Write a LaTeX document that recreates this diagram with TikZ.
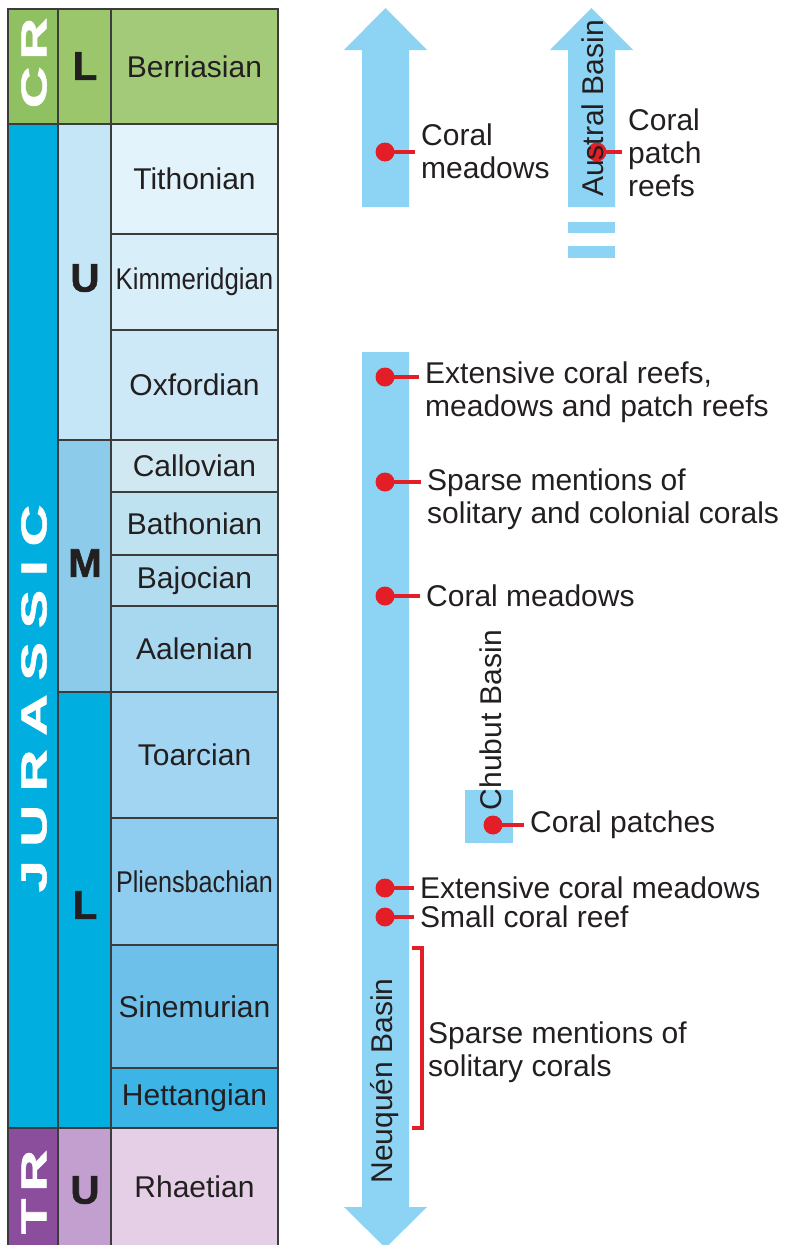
\documentclass[tikz,border=0pt]{standalone}
\usepackage{fontspec}
\setmainfont{Liberation Sans}
\newfontfamily\heavyfont[BoldFeatures={FakeBold=1.5}]{Liberation Sans}
\usetikzlibrary{positioning}

\definecolor{ink}{HTML}{231F20}
\definecolor{gridline}{HTML}{3C3C3C}
\definecolor{crA}{HTML}{8FC062}
\definecolor{crB}{HTML}{9CC66C}
\definecolor{crC}{HTML}{A3CA78}
\definecolor{jur}{HTML}{00AEDF}
\definecolor{upJ}{HTML}{C5E6F6}
\definecolor{midJ}{HTML}{8CCCEA}
\definecolor{tith}{HTML}{E3F3FB}
\definecolor{kimm}{HTML}{D8EEF9}
\definecolor{oxf}{HTML}{CDE8F7}
\definecolor{call}{HTML}{CFE8F1}
\definecolor{bath}{HTML}{BFE2F0}
\definecolor{bajo}{HTML}{B4DDF0}
\definecolor{aale}{HTML}{A8D8EF}
\definecolor{toar}{HTML}{A2D5F1}
\definecolor{plie}{HTML}{8ECDF0}
\definecolor{sine}{HTML}{6CC0EA}
\definecolor{hett}{HTML}{3CB4E6}
\definecolor{trA}{HTML}{8B4E9C}
\definecolor{trB}{HTML}{C29FCF}
\definecolor{rhae}{HTML}{E4CFE6}
\definecolor{basinblue}{HTML}{8DD3F3}
\definecolor{coralred}{HTML}{E31E26}

\begin{document}
\begin{tikzpicture}[
x=1pt, y=-1pt,
cell/.style={draw=gridline, line width=1.2pt},
stage/.style={font=\fontsize{30}{33}\selectfont, text=ink},
epoch/.style={font=\heavyfont\fontsize{40}{40}\selectfont\bfseries, text=ink},
period/.style={font=\heavyfont\fontsize{36}{36}\selectfont\bfseries, text=white, rotate=90, inner sep=0pt},
basin/.style={font=\fontsize{30}{30}\selectfont, text=ink, rotate=90, inner sep=0pt},
dot/.style={circle, fill=coralred, inner sep=0pt, minimum size=19pt},
stem/.style={draw=coralred, line width=4pt},
note/.style={anchor=west, align=left, inner xsep=6pt, inner ysep=0pt, font=\fontsize{30}{33}\selectfont, text=ink}
]
\useasboundingbox (0,0) rectangle (788,1245);

% time scale
\foreach \ya/\yb/\col in {9/124/crA, 124/1128/jur, 1128/1260/trA}
  \filldraw[cell, fill=\col] (8,\ya) rectangle (58,\yb);
\foreach \ya/\yb/\col in {9/124/crB, 124/440/upJ, 440/692/midJ, 692/1128/jur, 1128/1260/trB}
  \filldraw[cell, fill=\col] (58,\ya) rectangle (111,\yb);
\foreach \name/\ya/\yb/\col [count=\i] in {
  Berriasian/9/124/crC, Tithonian/124/234/tith,
  {\scalebox{0.86}[1]{Kimmeridgian}}/234/330/kimm, Oxfordian/330/440/oxf,
  Callovian/440/492/call, Bathonian/492/555/bath, Bajocian/555/606/bajo,
  Aalenian/606/692/aale, Toarcian/692/818/toar,
  {\scalebox{0.84}[1]{Pliensbachian}}/818/945/plie, Sinemurian/945/1068/sine,
  Hettangian/1068/1128/hett, Rhaetian/1128/1260/rhae}{
  \filldraw[cell, fill=\col] (111,\ya) rectangle (278,\yb);
  \node[stage] (st\i) at (194.5,{(min(\yb,1245)+\ya)/2}) {\name};
}

\node[period] (cr) at (34,63) {\scalebox{1.6}[1]{C\kern4.4pt R}};
\node[period] (jurassic) at (34,698.5) {\scalebox{1.6}[1]{J\kern8.6pt U\kern8.6pt R\kern8.6pt A\kern8.6pt S\kern8.6pt S\kern8.6pt I\kern8.6pt C}};
\node[period] (tr) at (34,1192) {\scalebox{1.6}[1]{T\kern4.5pt R}};

\node[epoch] (lowCr) at (85,66) {L};
\node[epoch] (upJur) at (85,278) {U};
\node[epoch] (midJur) at (85,563) {M};
\node[epoch] (lowJur) at (85,905) {L};
\node[epoch] (upTr) at (85,1190) {U};

% basins
\fill[basinblue] (362,207) -- (362,50) -- (344,50) -- (385.5,8) -- (427,50) -- (409,50) -- (409,207) -- cycle;
\fill[basinblue] (568,207) -- (568,50) -- (550,50) -- (591.5,8) -- (633,50) -- (615,50) -- (615,207) -- cycle;
\fill[basinblue] (568,222) rectangle (615,233);
\fill[basinblue] (568,246) rectangle (615,258);
\fill[basinblue] (362,352) -- (362,1207) -- (344,1207) -- (385.5,1248) -- (427,1207) -- (409,1207) -- (409,352) -- cycle;
\fill[basinblue] (465,790) rectangle (513,843);

% occurrences
\node[dot] (d0) at (385,152) {};
\node[note] (n0) at (415,151.5) {Coral\\meadows};
\draw[stem] (d0.center) -- (d0 -| n0.west);

\node[dot] (d1) at (597,152) {};
\node[note] (n1) at (622,153) {Coral\\patch\\reefs};
\draw[stem] (d1.center) -- (d1 -| n1.west);
\node[basin] (austral) at (593,108.5) {Austral Basin};

\node[dot] (d2) at (385,377) {};
\node[note] (n2) at (419,392.5) {Extensive coral reefs,\\meadows and patch reefs};
\draw[stem] (d2.center) -- (d2 -| n2.west);

\node[dot] (d3) at (385,482) {};
\node[note] (n3) at (421,499.5) {Sparse mentions of\\solitary and colonial corals};
\draw[stem] (d3.center) -- (d3 -| n3.west);

\node[dot] (d4) at (385,596) {};
\node[note] (n4) at (420,596) {Coral meadows};
\draw[stem] (d4.center) -- (d4 -| n4.west);

\node[basin] (chubut) at (491,720) {Chubut Basin};
\node[dot] (d5) at (493,825) {};
\node[note] (n5) at (524,825) {Coral patches};
\draw[stem] (d5.center) -- (d5 -| n5.west);

\node[dot] (d6) at (385,888) {};
\node[note] (n6) at (414,888) {Extensive coral meadows};
\draw[stem] (d6.center) -- (d6 -| n6.west);

\node[dot] (d7) at (385,917) {};
\node[note] (n7) at (414,917) {Small coral reef};
\draw[stem] (d7.center) -- (d7 -| n7.west);

\node[basin] (neuquen) at (385,1081) {Neuquén Basin};
\coordinate (brTop) at (412,948);
\coordinate (brBot) at (412,1128);
\node[note] (n8) at (422,1052) {Sparse mentions of\\solitary corals};
\draw[stem] (brTop) -- (brTop -| n8.west) -- (brBot -| n8.west) -- (brBot);
\end{tikzpicture}
\end{document}
